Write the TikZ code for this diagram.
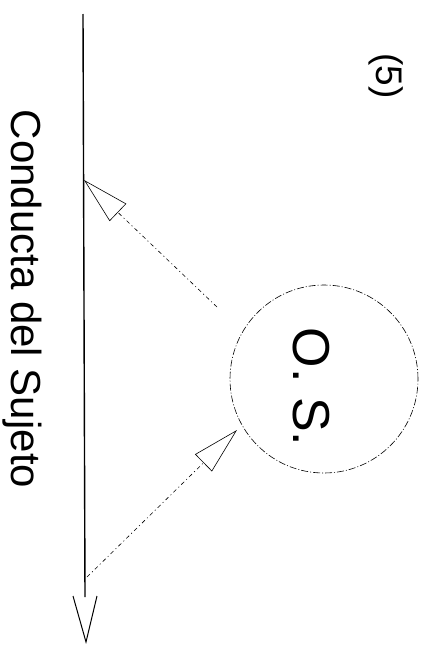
\documentclass[tikz,border=0pt]{standalone}
\usepackage{fontspec}
\setmainfont{Liberation Sans}
\usetikzlibrary{arrows.meta}
\begin{document}
\begin{tikzpicture}[x=1pt,y=-1pt,
  mainline/.style={line width=1.4pt},
  dotline/.style={line width=0.6pt, dash pattern=on 4pt off 3pt on 1pt off 3pt},
  hollowtip/.style={-{Triangle[open,length=47pt,width=24pt,line width=0.6pt]}},
  ring/.style={draw, circle, minimum size=188pt, inner sep=0pt, line width=0.6pt, dash pattern=on 7pt off 2pt on 1pt off 2pt}]
\useasboundingbox (0,0) rectangle (425,648);
% main line
\coordinate (ltop) at (83,14);
\coordinate (lend) at (85,597);
\coordinate (vl) at (73,596);
\coordinate (vtip) at (86,642);
\coordinate (vr) at (97,596);
\draw[mainline] (ltop) -- (lend);
\draw[line width=1pt] (vl) -- (vtip) -- (vr);
% circle
\node[ring] (os) at (324,379) {};
\node[rotate=-90, anchor=base, font=\fontsize{52}{60}\selectfont] (oslabel) at (293,387) {O. S.};
% labels
\node[rotate=-90, anchor=base, font=\fontsize{42}{50}\selectfont] (conducta) at (11,299) {Conducta del Sujeto};
\node[rotate=-90, anchor=base, font=\fontsize{37}{44}\selectfont] (num) at (376,76) {(5)};
% arrows
\coordinate (a1s) at (217,307);
\coordinate (a1e) at (84,180);
\coordinate (a2s) at (87,577);
\coordinate (a2e) at (237,430);
\draw[dotline, hollowtip] (a1s) -- (a1e);
\draw[dotline, hollowtip] (a2s) -- (a2e);
\end{tikzpicture}
\end{document}
